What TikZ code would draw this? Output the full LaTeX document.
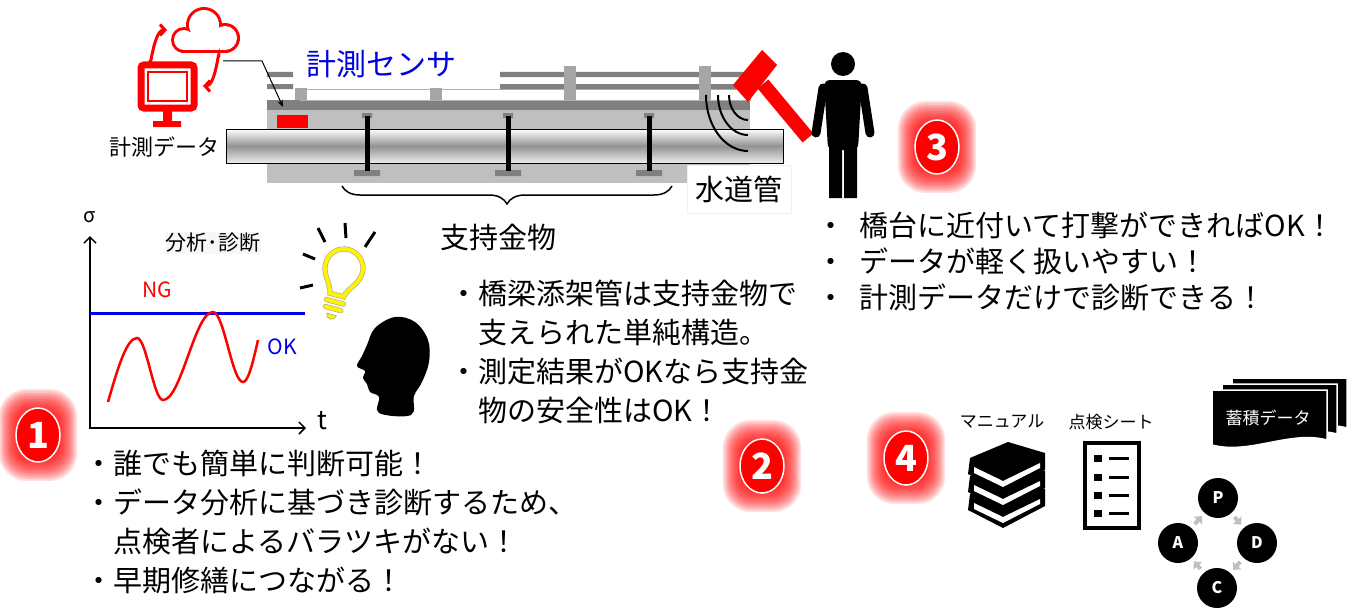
\documentclass[tikz,border=0pt]{standalone}
\usepackage{fontspec}
\setmainfont{Noto Sans CJK JP}
\usetikzlibrary{arrows.meta,shapes.geometric,decorations.pathreplacing}

\tikzset{txtblk/.style={font=\fontsize{29}{39}\selectfont,align=left,inner sep=0pt,anchor=base west},
         lab/.style={inner sep=1pt,font=\fontsize{#1}{#1}\selectfont},
         numbadge/.style={ellipse,fill=red,draw=white,line width=1.5pt,minimum width=44pt,minimum height=54pt,
                          inner sep=0pt,text=white,font=\fontsize{36}{36}\selectfont\bfseries},
         pdcav/.style={circle,fill=black,minimum size=40pt,inner sep=0pt,text=white,font=\fontsize{16}{16}\selectfont\bfseries},
         pdcaarr/.style={-{Triangle[length=6pt,width=11pt]},line width=4pt,gray!50,shorten <=5pt,shorten >=4pt},
         bulbline/.style={draw=gray!70,double=yellow,double distance=4pt,line width=0.6pt},
         redarr/.style={red,line width=3pt,-{Straight Barb[length=5pt,width=11pt]}}}

\begin{document}
\begin{tikzpicture}[x=1pt,y=-1pt]
  \useasboundingbox (0,0) rectangle (1357,610);
  \fill[white] (0,0) rectangle (1357,610);

  % cloud and monitor
  \foreach \r/\c in {3/red,0/white}
    {\fill[\c] (184,40) circle ({10+\r});
     \fill[\c] (204,25) circle ({15+\r});
     \fill[\c] (225,38) circle ({12+\r});
     \fill[\c] ({184-\r},{32-\r}) rectangle ({225+\r},{50+\r});}
  \draw[red,line width=7pt,rounded corners=3pt] (141,65) rectangle (194,108);
  \draw[red,line width=1.2pt] (148,72) rectangle (187,101);
  \fill[red] (163,111) rectangle (172,122) (153,121) rectangle (181,127);
  \draw[redarr] (150,60) to[out=270,in=180] (167,30);
  \draw[redarr] (219,57) to[out=90,in=0] (203,86);
  \node[lab=22,fill=white] (data) at (164,147) {計測データ};

  % bridge deck with rails
  \fill[gray!50] (267,110) rectangle (750,183);
  \fill[gray] (267,100) rectangle (750,110);
  \draw[gray!60,fill=white] (300,89) rectangle (750,100);
  \fill[gray] (267,72) rectangle (293,77) (267,84) rectangle (293,89);
  \fill[gray] (500,72) rectangle (748,77) (500,84) rectangle (748,89);
  \foreach \x in {301,436} \fill[gray!70] (\x-6,88) rectangle (\x+6,100);
  \foreach \x in {570,705} \fill[gray!70] (\x-6,66) rectangle (\x+6,100);
  \node[fill=red,minimum width=31pt,minimum height=13pt,inner sep=0pt] (sensor) at (292,121) {};

  % pipe and supports
  \shade[top color=white,bottom color=gray!15,middle color=gray!85] (226,129) rectangle (783,163);
  \draw[line width=1pt] (226,129) rectangle (783,163);
  \foreach \x in {367,508,649}
    {\fill[gray] (\x-5,113) rectangle (\x+5,118) (\x-13,170) rectangle (\x+13,176);
     \fill[black] (\x-2.5,116) rectangle (\x+2.5,171);}
  \node[lab=29,fill=white,draw=black!6,minimum width=104pt,minimum height=48pt] (pipe) at (739,189) {水道管};
  \node[lab=30,text={rgb,255:red,0;green,0;blue,230}] (sensorlab) at (381,64) {計測センサ};

  \coordinate (leadA) at (223,61);
  \coordinate (leadB) at (283,107);
  \draw[line width=1pt,-{Stealth[length=7pt]}] (leadA) -- ++(39,0) -- (leadB);

  \draw[decorate,decoration={brace,mirror,amplitude=18pt},line width=1.5pt] (342,186) -- (672,186);
  \node[lab=29] (kanamono) at (498,238) {支持金物};

  % hammer blow and worker
  \foreach \a/\b in {42/56,30/40,19/25}
    \draw[line width=2pt] (748-\a,95) arc[start angle=180,end angle=90,x radius=\a,y radius=\b];
  \draw[red,line width=14pt] (763,84) -- (808,138);
  \fill[red] (762,50) -- (777,65) -- (748,102) -- (733,85) -- cycle;
  \fill (843,64) circle (12);
  \fill[rounded corners=6pt] (824,80) -- (862,80) -- (858,150) -- (828,150) -- cycle;
  \fill (829,140) rectangle (842,198) (844,140) rectangle (857,198);
  \draw[line width=9pt,line cap=round] (823,88) -- (816,133) (863,88) -- (870,133);

  % sigma-t chart
  \draw[line width=1.5pt,-{Straight Barb[length=6pt,width=12pt]}] (90,428) -- (90,236);
  \draw[line width=1.5pt,-{Straight Barb[length=6pt,width=12pt]}] (89,428) -- (306,428);
  \node[lab=20] (sig) at (90,217) {σ};
  \node[lab=26] (tt) at (322,421) {t};
  \node[lab=21,fill=black!3] (bunseki) at (213,243) {分析･診断};
  \draw[blue!90!black,line width=3pt] (90,313) -- (305,313);
  \node[lab=21,text=red] (ng) at (157,290) {NG};
  \node[lab=21,text=blue!90!black] (ok) at (282,347) {OK};
  \draw[red,line width=2.5pt] (108,402) sin (137,338) cos (150,369) sin (163,400) cos (188,356)
        sin (213,312) cos (228,347) sin (243,382) cos (258,340);

  % idea bulb and head
  \draw[line width=3pt] (303,254) -- (315,259) (318,228) -- (325,242) (345,223) -- (346,238)
        (375,232) -- (365,247) (300,288) -- (313,285);
  \begin{scope}[shift={(344,268)},yscale=-1,rotate=15]
    \draw[bulbline] (-7,-28) .. controls (-9,-18) and (-19,-12) .. (-19,0) arc[start angle=180,end angle=0,radius=19]
          .. controls (19,-12) and (9,-18) .. (7,-28) -- cycle;
    \draw[bulbline,line cap=round] (-9,-35) -- (9,-35) (-8,-42) -- (8,-42);
    \fill[yellow,draw=gray!70,line width=0.6pt] (-5,-48) -- (5,-48) arc[start angle=0,end angle=-180,radius=5] -- cycle;
  \end{scope}
  \fill plot[smooth cycle,tension=0.6] coordinates {(395,317) (415,322) (428,340) (429,362) (422,382)
        (414,396) (411,415) (379,413) (379,397) (370,392) (367,384) (363,378) (365,371) (357,366)
        (362,356) (367,345) (375,328)};

  % text blocks (anchored at the last line's baseline)
  \node[txtblk] (merit1) at (84,591) {・誰でも簡単に判断可能！\\・データ分析に基づき診断するため、\\　点検者によるバラツキがない！\\・早期修繕につながる！};
  \node[txtblk] (merit2) at (449,421) {・橋梁添架管は支持金物で\\　支えられた単純構造。\\・測定結果がOKなら支持金\\　物の安全性はOK！};
  \node[txtblk,font=\fontsize{29}{36}\selectfont] (merit3) at (816,308)
       {・\hspace{.5em}橋台に近付いて打撃ができればOK！\\・\hspace{.5em}データが軽く扱いやすい！\\・\hspace{.5em}計測データだけで診断できる！};

  % manual, check sheet, stored data, PDCA
  \node[lab=17] (manual) at (1002,422) {マニュアル};
  \node[lab=17] (sheet) at (1111,422) {点検シート};
  \foreach \k in {2,1,0}
    {\fill (970,{458+18*\k}) -- (1008,{442+18*\k}) -- (1045,{453+18*\k}) -- (1045,{470+18*\k})
           -- (1003,{492+18*\k}) -- (968,{474+18*\k}) -- cycle;
     \fill[white] (974,{467+18*\k}) -- (1003,{481+18*\k}) -- (1040,{463+18*\k}) -- (1040,{468+18*\k})
           -- (1003,{487+18*\k}) -- (974,{473+18*\k}) -- cycle;}
  \draw[line width=4.5pt] (1085,443) rectangle (1139,528);
  \foreach \y in {458,477,495,513}
    {\fill (1094,\y-3.5) rectangle (1102,\y+3.5);
     \draw[line width=3pt] (1109,\y) -- (1129,\y);}
  \foreach \d in {20,10,0}
    \filldraw[draw=white,line width=1.5pt] (1212+\d,390-0.6*\d) -- (1327+\d,390-0.6*\d) -- (1327+\d,440-0.6*\d)
        .. controls (1290+\d,430-0.6*\d) and (1250+\d,455-0.6*\d) .. (1212+\d,445-0.6*\d) -- cycle;
  \node[lab=17,text=white] (store) at (1268,418) {蓄積データ};
  \node[pdcav] (P) at (1218,498) {P};
  \node[pdcav] (D) at (1257,543) {D};
  \node[pdcav] (C) at (1217,588) {C};
  \node[pdcav] (A) at (1178,543) {A};
  \draw[pdcaarr] (P) -- (D);
  \draw[pdcaarr] (D) -- (C);
  \draw[pdcaarr] (C) -- (A);
  \draw[pdcaarr] (A) -- (P);

  % glowing step numbers
  \foreach \n/\x/\y in {1/38/435,2/762/466,3/937/147,4/906/458}
    {\foreach \w in {46,44,...,24}
       \fill[red,opacity=0.13,rounded corners={0.6*\w}] ({\x-0.85*\w},{\y-\w}) rectangle ({\x+0.85*\w},{\y+\w});
     \node[numbadge] (num\n) at (\x,\y) {\n};}
\end{tikzpicture}
\end{document}
